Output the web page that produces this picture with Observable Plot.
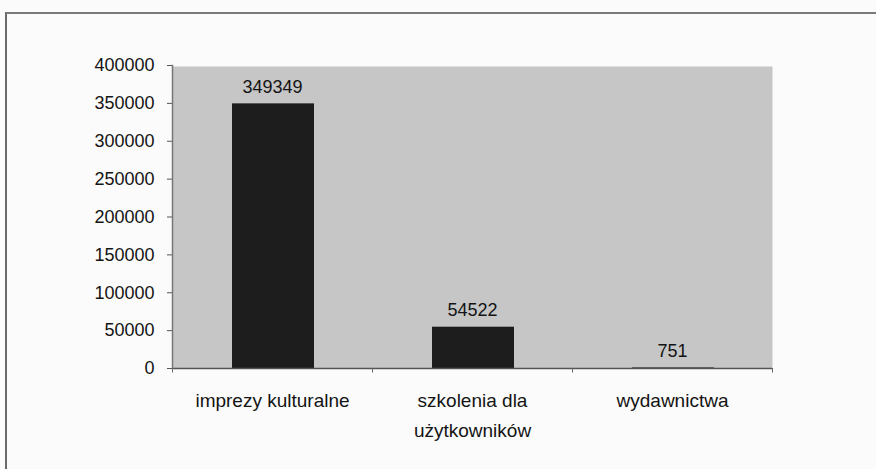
<!DOCTYPE html>
<html>
<head>
<meta charset="utf-8">
<script src="https://cdn.jsdelivr.net/npm/d3@7"></script>
<script src="https://cdn.jsdelivr.net/npm/@observablehq/plot@0.6"></script>
<style>
  html, body { margin: 0; padding: 0; background: #fbfbfb; }
  #wrap { position: relative; width: 876px; height: 469px; overflow: hidden; }
  #border { position: absolute; left: 5px; top: 12px; width: 900px; height: 500px;
            border-left: 2px solid #6a6a6a; border-top: 2px solid #7a7a7a; box-sizing: border-box; }
  #chart { position: absolute; left: 0; top: 0; }
  svg { font-family: "Liberation Sans", Arial, sans-serif; }
</style>
</head>
<body>
<div id="wrap">
  <div id="border"></div>
  <div id="chart"></div>
</div>
<script>
const categories = ["imprezy kulturalne", "szkolenia dla użytkowników", "wydawnictwa"];
const tickLabels = ["imprezy kulturalne", "szkolenia dla\nużytkowników", "wydawnictwa"];
const values = [349349, 54522, 751];
const yTicks = [0, 50000, 100000, 150000, 200000, 250000, 300000, 350000, 400000];

const data = categories.map((c, i) => ({category: c, value: values[i]}));
const labelOf = new Map(categories.map((c, i) => [c, tickLabels[i]]));

const plot = Plot.plot({
  width: 876,
  height: 469,
  marginLeft: 172,
  marginRight: 104,
  marginTop: 65,
  marginBottom: 101,
  style: {background: "transparent", fontSize: "18px", color: "#141414"},
  x: {domain: categories, padding: 0, label: null},
  y: {domain: [0, 400000], label: null},
  marks: [
    Plot.frame({fill: "#c6c6c6", stroke: null, insetTop: 1}),
    Plot.barY(data, {x: "category", y: "value", fill: "#1d1d1d", insetLeft: 60, insetRight: 58}),
    Plot.text(data, {x: "category", y: "value", text: d => String(d.value), lineAnchor: "bottom", dy: -11,
                     fontSize: 18, fill: "#141414"}),
    Plot.axisY({ticks: yTicks, tickFormat: d => String(d), tickSize: 5, tickPadding: 13,
                fontSize: 18, stroke: "#555", fill: "#141414"}),
    Plot.axisX({tickSize: 0, tickPadding: 18, tickFormat: d => labelOf.get(d), fontSize: 19,
                lineHeight: 1.55, fill: "#141414"}),
    Plot.ruleY([0], {stroke: "#555", strokeWidth: 1.5}),
    Plot.frame({anchor: "left", stroke: "#777", strokeWidth: 1.5}),
    Plot.ruleX(categories, {x: d => d, dx: 100, y1: 0, y2: -6000, stroke: "#666"}),
    Plot.ruleX([categories[0]], {x: d => d, dx: -100, y1: 0, y2: -6000, stroke: "#666"})
  ]
});
document.getElementById("chart").appendChild(plot);
</script>
</body>
</html>
